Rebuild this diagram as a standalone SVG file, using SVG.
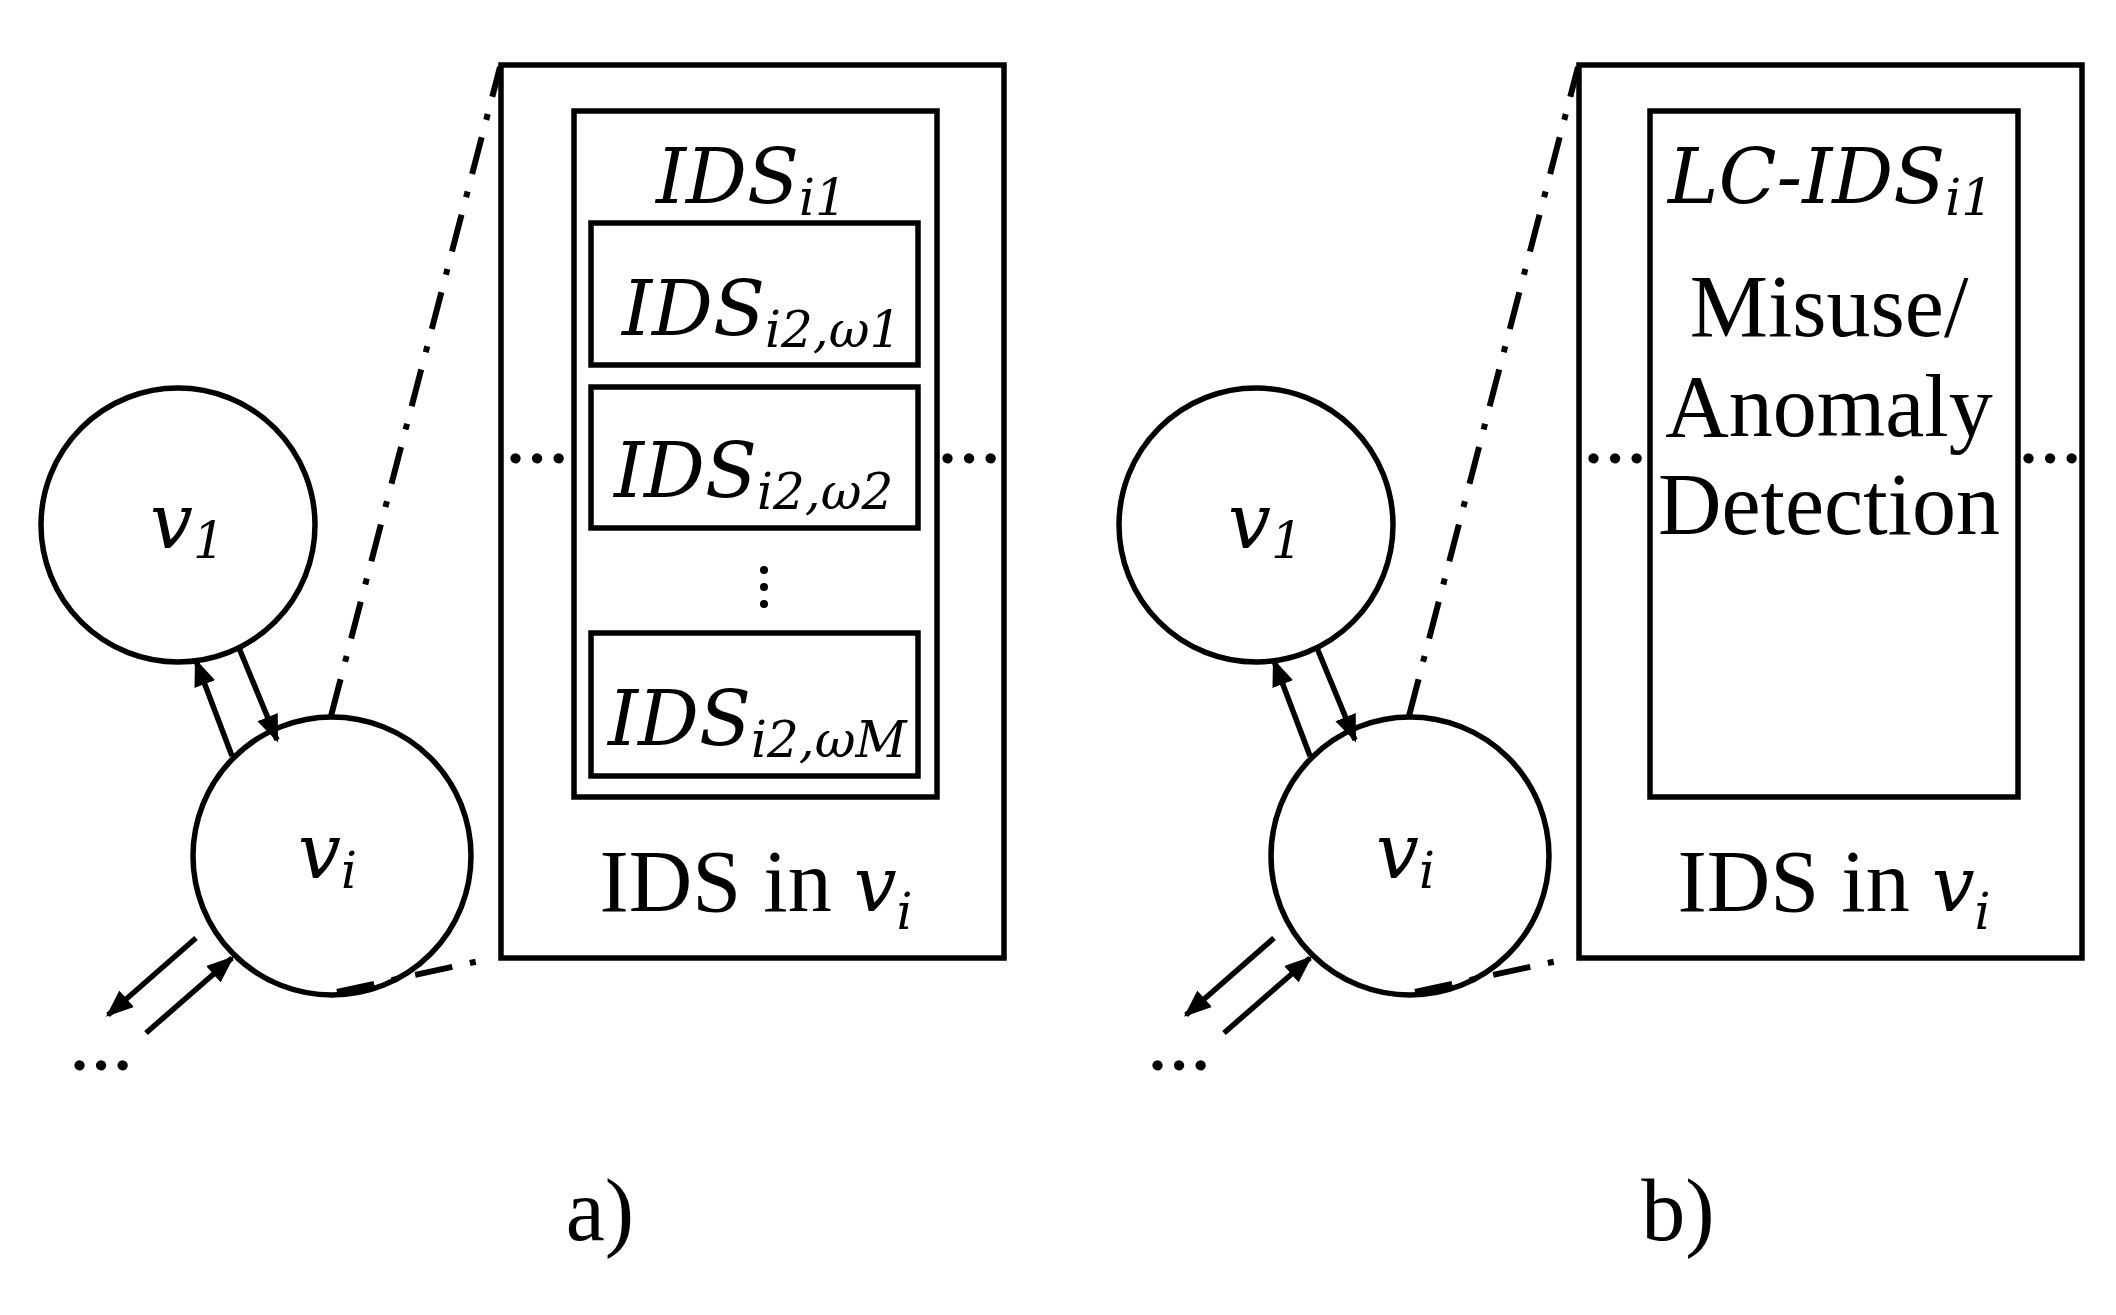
<svg xmlns="http://www.w3.org/2000/svg" width="2116" height="1315" viewBox="0 0 2116 1315">
<style>
.s{fill:none;stroke:#000;stroke-width:5.5}
.dd{fill:none;stroke:#000;stroke-width:6;stroke-dasharray:38 18 6 18}
.it{font-family:"DejaVu Serif","Liberation Serif",serif;font-style:italic;font-size:76px}
.sub{font-size:50px}
.t{font-family:"Liberation Serif",serif;font-size:88px}
.d{font-family:"Liberation Serif",serif;font-size:64px;font-weight:bold}
</style>
<defs>
<marker id="ah" viewBox="0 0 10 10" refX="9" refY="5" markerWidth="5" markerHeight="5" orient="auto"><path d="M0,1 L10,5 L0,9 z" fill="#000"/></marker>
</defs>
<g id="panelA">
<g id="a_v1"><circle class="s" cx="178" cy="525" r="137"/><text class="it" x="150" y="548">v<tspan class="sub" dy="10">1</tspan></text></g>
<g id="a_vi"><circle class="s" cx="332" cy="856" r="139"/><text class="it" x="298" y="878">v<tspan class="sub" dy="10">i</tspan></text></g>
<g id="a_box"><rect class="s" x="501" y="65" width="503" height="893"/>
<text class="t" x="756" y="911" text-anchor="middle">IDS in <tspan class="it">v</tspan><tspan class="it sub" dy="18">i</tspan></text>
<text class="d" x="537" y="463" text-anchor="middle">…</text><text class="d" x="969" y="463" text-anchor="middle">…</text></g>
<g id="a_ids1"><rect class="s" x="574" y="111" width="363" height="686"/>
<text class="it" x="656" y="203">IDS<tspan class="sub" dy="12">i1</tspan></text></g>
<g id="a_w1"><rect class="s" x="591" y="223" width="327" height="142"/><text class="it" x="622" y="335">IDS<tspan class="sub" dy="12">i2,ω1</tspan></text></g>
<g id="a_w2"><rect class="s" x="591" y="387" width="327" height="141"/><text class="it" x="614" y="497">IDS<tspan class="sub" dy="12">i2,ω2</tspan></text></g>
<g id="a_vd"><circle cx="764" cy="570" r="4"/><circle cx="764" cy="587" r="4"/><circle cx="764" cy="604" r="4"/></g>
<g id="a_wM"><rect class="s" x="591" y="633" width="327" height="143"/><text class="it" x="608" y="745">IDS<tspan class="sub" dy="12">i2,ωM</tspan></text></g>
<text class="d" x="101" y="1070" text-anchor="middle">…</text>
<text class="t" x="600" y="1240" text-anchor="middle">a)</text>
</g>
<g id="panelB">
<g id="b_v1"><circle class="s" cx="1256" cy="525" r="137"/><text class="it" x="1228" y="548">v<tspan class="sub" dy="10">1</tspan></text></g>
<g id="b_vi"><circle class="s" cx="1410" cy="856" r="139"/><text class="it" x="1376" y="878">v<tspan class="sub" dy="10">i</tspan></text></g>
<g id="b_box"><rect class="s" x="1579" y="65" width="503" height="893"/>
<text class="t" x="1834" y="911" text-anchor="middle">IDS in <tspan class="it">v</tspan><tspan class="it sub" dy="18">i</tspan></text>
<text class="d" x="1615" y="463" text-anchor="middle">…</text><text class="d" x="2050" y="463" text-anchor="middle">…</text></g>
<g id="b_lc"><rect class="s" x="1650" y="111" width="368" height="686"/>
<text class="it" x="1668" y="203">LC-IDS<tspan class="sub" dy="12">i1</tspan></text>
<text class="t" x="1829" y="336" text-anchor="middle">Misuse/</text>
<text class="t" x="1829" y="436" text-anchor="middle">Anomaly</text>
<text class="t" x="1829" y="534" text-anchor="middle">Detection</text></g>
<text class="d" x="1179" y="1070" text-anchor="middle">…</text>
<text class="t" x="1678" y="1240" text-anchor="middle">b)</text>
</g>
<g id="connectors">
<path class="s" d="M232,756 L196,661" marker-end="url(#ah)"/>
<path class="s" d="M239,648 L277,740" marker-end="url(#ah)"/>
<path class="s" d="M196,938 L108,1015" marker-end="url(#ah)"/>
<path class="s" d="M146,1033 L232,958" marker-end="url(#ah)"/>
<path class="dd" d="M331,716 L500,67"/>
<path class="dd" d="M337,992 L479,961"/>
<path class="s" d="M1310,756 L1274,661" marker-end="url(#ah)"/>
<path class="s" d="M1317,648 L1355,740" marker-end="url(#ah)"/>
<path class="s" d="M1274,938 L1186,1015" marker-end="url(#ah)"/>
<path class="s" d="M1224,1033 L1310,958" marker-end="url(#ah)"/>
<path class="dd" d="M1409,716 L1578,67"/>
<path class="dd" d="M1415,992 L1557,961"/>
</g>
</svg>
